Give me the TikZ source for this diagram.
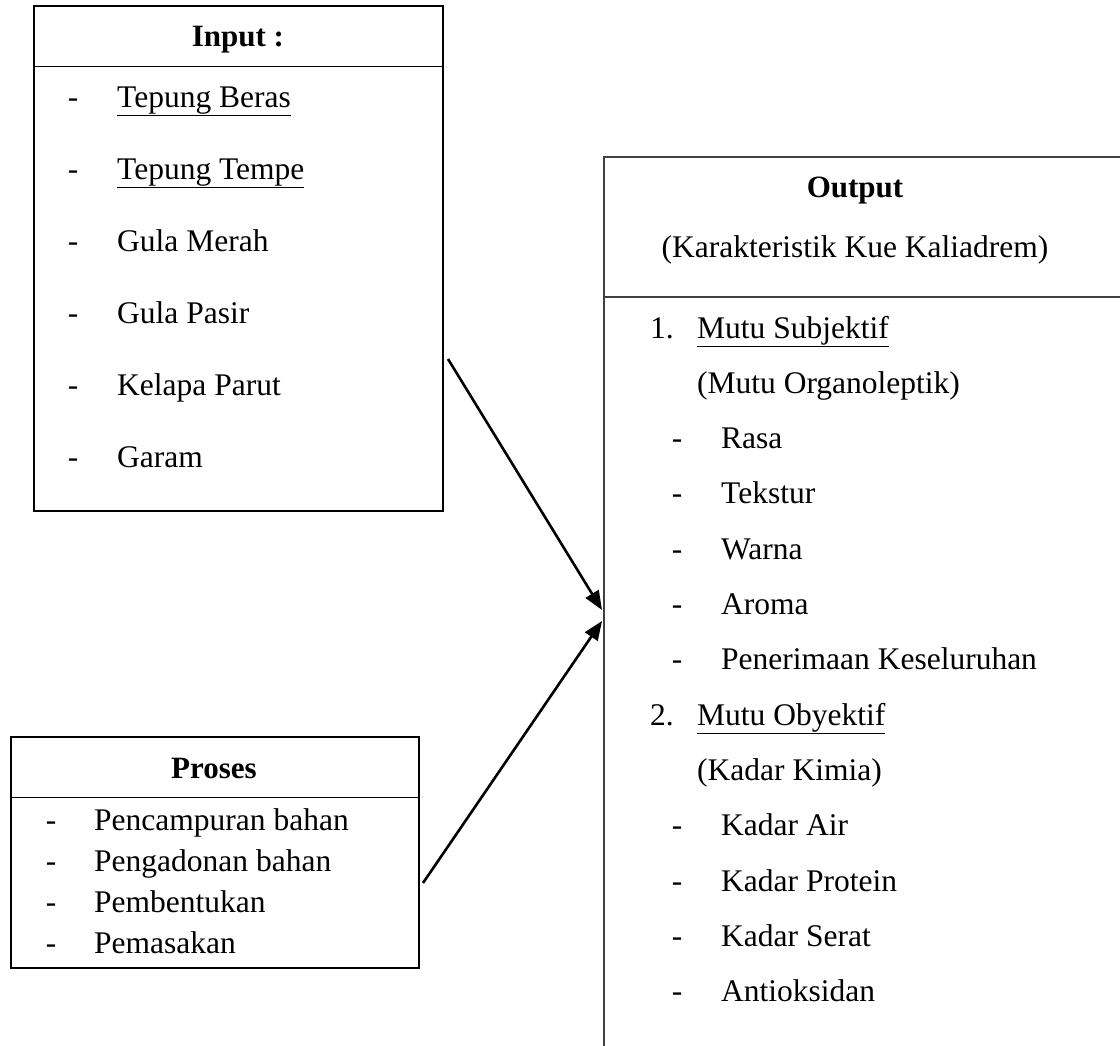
\documentclass[tikz,border=0pt]{standalone}
\usepackage{fontspec}
\setmainfont{Liberation Serif}
\usetikzlibrary{arrows.meta}
\begin{document}
\begin{tikzpicture}[x=1pt,y=-1pt,
  box/.style={draw,line width=2.4pt,inner sep=0pt,anchor=north west},
  outbox/.style={draw=black!75,line width=1.6pt,inner sep=0pt,anchor=north west},
  head/.style={font=\fontsize{31}{36}\selectfont\bfseries,anchor=base,inner sep=0pt},
  txt/.style={font=\fontsize{31.5}{36}\selectfont,anchor=base west,inner sep=0pt},
  bul/.style={font=\fontsize{31.5}{36}\selectfont,anchor=base,inner sep=0pt},
  link/.style={-{Triangle[length=19pt,width=15pt]},line width=2.6pt}]
\useasboundingbox (0,0) rectangle (1120,1045);
\clip (0,0) rectangle (1120,1045);
% input
\node[box,minimum width=409pt,minimum height=505pt] (input) at (33,5) {};
\draw ([yshift=-61pt]input.north west)--([yshift=-61pt]input.north east);
\node[head] (inhead) at (238,46) {Input :};
\foreach \t [count=\i] in {\underline{Tepung Beras},\underline{Tepung Tempe},Gula Merah,Gula Pasir,Kelapa Parut,Garam}{
  \node[bul] (indash\i) at (73,35+72*\i) {-};
  \node[txt] (in\i) at (117,35+72*\i) {\t};
}
% proses
\node[box,minimum width=408pt,minimum height=231pt] (proses) at (10,736) {};
\draw ([yshift=-61pt]proses.north west)--([yshift=-61pt]proses.north east);
\node[head] (prhead) at (214,778) {Proses};
\foreach \t [count=\i] in {Pencampuran bahan,Pengadonan bahan,Pembentukan,Pemasakan}{
  \node[bul] (prdash\i) at (51,789+41*\i) {-};
  \node[txt] (pr\i) at (94,789+41*\i) {\t};
}
% output
\node[outbox,minimum width=530pt,minimum height=920pt] (output) at (603,156) {};
\draw[black!75,line width=1.6pt] ([yshift=-141pt]output.north west)--([yshift=-141pt]output.north east);
\node[head] (outhead) at (855,197) {Output};
\node[bul] (outsub) at (855,257) {(Karakteristik Kue Kaliadrem)};
\node[txt] (num1) at (650,338) {1.};
\node[txt] (out1) at (697,338) {\underline{Mutu Subjektif}};
\node[txt] (out2) at (697,393.3) {(Mutu Organoleptik)};
\foreach \t [count=\i] in {Rasa,Tekstur,Warna,Aroma,Penerimaan Keseluruhan}{
  \node[bul] (outdashA\i) at (677,393.3+55.3*\i) {-};
  \node[txt] (outA\i) at (721,393.3+55.3*\i) {\t};
}
\node[txt] (num2) at (650,725.1) {2.};
\node[txt] (out8) at (697,725.1) {\underline{Mutu Obyektif}};
\node[txt] (out9) at (697,780.4) {(Kadar Kimia)};
\foreach \t [count=\i] in {Kadar Air,Kadar Protein,Kadar Serat,Antioksidan}{
  \node[bul] (outdashB\i) at (677,780.4+55.3*\i) {-};
  \node[txt] (outB\i) at (721,780.4+55.3*\i) {\t};
}
% arrows
\coordinate (inS) at (448,359);
\coordinate (inE) at (602,610);
\coordinate (prS) at (423,883);
\coordinate (prE) at (602,621);
\draw[link] (inS)--(inE);
\draw[link] (prS)--(prE);
\end{tikzpicture}
\end{document}
